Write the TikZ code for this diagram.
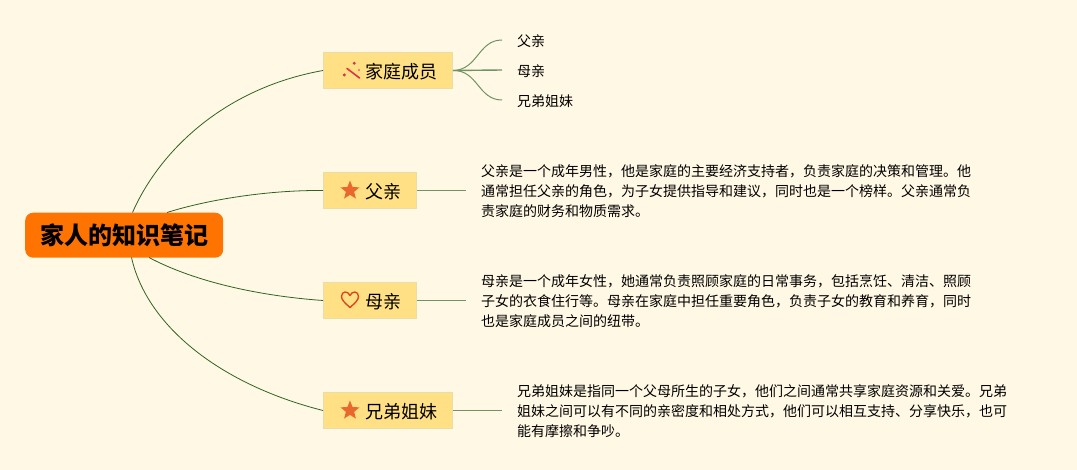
\documentclass[tikz,border=0pt]{standalone}
\usepackage{fontspec}
\setmainfont{Noto Sans CJK SC}
\usetikzlibrary{shapes.geometric}
\definecolor{bgc}{HTML}{FFF8E5}
\definecolor{boxc}{HTML}{FFE084}
\definecolor{boxb}{HTML}{E9DDA8}
\definecolor{mainc}{HTML}{FF7300}
\definecolor{linec}{HTML}{2F6420}
\definecolor{linel}{HTML}{6F9362}
\definecolor{starc}{HTML}{E8682E}
\definecolor{heartc}{HTML}{D9481F}
\definecolor{wandc}{HTML}{E0304A}
\tikzset{
  rootbox/.style={fill=mainc,rounded corners=8pt,minimum width=198pt,minimum height=45pt,inner sep=0pt,font=\fontsize{24}{28}\selectfont\bfseries,anchor=north west},
  branchbox/.style={fill=boxc,draw=boxb,line width=1pt,minimum height=36pt,inner sep=0pt,anchor=north west},
  branchtext/.style={font=\fontsize{18}{22}\selectfont,inner sep=0pt,anchor=west},
  leaf/.style={font=\fontsize{14}{20}\selectfont,inner xsep=15pt,inner ysep=0pt,anchor=west},
  para/.style={font=\fontsize{14}{20}\selectfont,inner xsep=15pt,inner ysep=0pt,anchor=west,align=left},
  main link/.style={draw=linec,line width=0.8pt},
  sub link/.style={draw=linel,line width=1.4pt},
  staricon/.style={star,star points=5,star point ratio=2.3,fill=starc,minimum size=20pt,inner sep=0pt},
}
\begin{document}
\begin{tikzpicture}[x=1pt,y=-1pt]
\useasboundingbox[fill=bgc] (0,0) rectangle (1077,470);
\node[rootbox] (root) at (25,212.5) {家人的知识笔记};
\coordinate (r1) at (132.5,212.5);
\coordinate (r2) at (167,212.5);
\coordinate (r3) at (149,257.5);
\coordinate (r4) at (131.5,257.5);

\node[branchbox,minimum width=129pt] (b1) at (323,52) {};
\node[branchbox,minimum width=93pt] (b2) at (323,172) {};
\node[branchbox,minimum width=93pt] (b3) at (323,282) {};
\node[branchbox,minimum width=129pt] (b4) at (323,392) {};

\node[branchtext] (t1) at (365.5,71.5) {家庭成员};
\node[branchtext] (t2) at (365.5,191.5) {父亲};
\node[branchtext] (t3) at (365.5,301.5) {母亲};
\node[branchtext] (t4) at (365.5,411.5) {兄弟姐妹};

\node[staricon] (s2) at (350,190.5) {};
\node[staricon] (s4) at (350,410.5) {};
\draw[heartc,line width=1.4pt,line join=round] (350,307.5) .. controls (345,303) and (341.5,300) .. (341.5,296.5) .. controls (341.5,291) and (348,290.5) .. (350,295.5) .. controls (352,290.5) and (358.5,291) .. (358.5,296.5) .. controls (358.5,300) and (355,303) .. (350,307.5) -- cycle;
\draw[wandc,line width=1.6pt,line cap=round] (347,68.5) -- (359.5,78);
\fill[wandc] (354.3,63.3) circle (1.6pt) (344.3,75) circle (1.7pt) (359,70) circle (0.8pt);

\node[leaf] (l1) at (502,41) {父亲};
\node[leaf] (l2) at (502,71) {母亲};
\node[leaf] (l3) at (502,101) {兄弟姐妹};
\coordinate (l1e) at (502,40);
\coordinate (l2e) at (502,70);
\coordinate (l3e) at (502,100);

\node[para] (p1) at (466,191) {父亲是一个成年男性，他是家庭的主要经济支持者，负责家庭的决策和管理。他\\通常担任父亲的角色，为子女提供指导和建议，同时也是一个榜样。父亲通常负\\责家庭的财务和物质需求。};
\node[para] (p2) at (466,301) {母亲是一个成年女性，她通常负责照顾家庭的日常事务，包括烹饪、清洁、照顾\\子女的衣食住行等。母亲在家庭中担任重要角色，负责子女的教育和养育，同时\\也是家庭成员之间的纽带。};
\node[para] (p3) at (502,411) {兄弟姐妹是指同一个父母所生的子女，他们之间通常共享家庭资源和关爱。兄弟\\姐妹之间可以有不同的亲密度和相处方式，他们可以相互支持、分享快乐，也可\\能有摩擦和争吵。};

\draw[main link] (r1) .. controls (160,150) and (225,88) .. (b1.west);
\draw[main link] (r2) .. controls (210,199) and (270,190) .. (b2.west);
\draw[main link] (r3) .. controls (195,282) and (260,296) .. (b3.west);
\draw[main link] (r4) .. controls (147,327) and (222,385) .. (b4.west);

\draw[sub link,line width=1pt] (b1.east) .. controls (478,70) and (478,40) .. (l1e);
\draw[sub link] (b1.east) -- (l2e);
\draw[sub link,line width=1pt] (b1.east) .. controls (478,70) and (478,100) .. (l3e);
\draw[sub link] (b2.east) -- (b2.east -| p1.west);
\draw[sub link] (b3.east) -- (b3.east -| p2.west);
\draw[sub link] (b4.east) -- (b4.east -| p3.west);
\end{tikzpicture}
\end{document}
